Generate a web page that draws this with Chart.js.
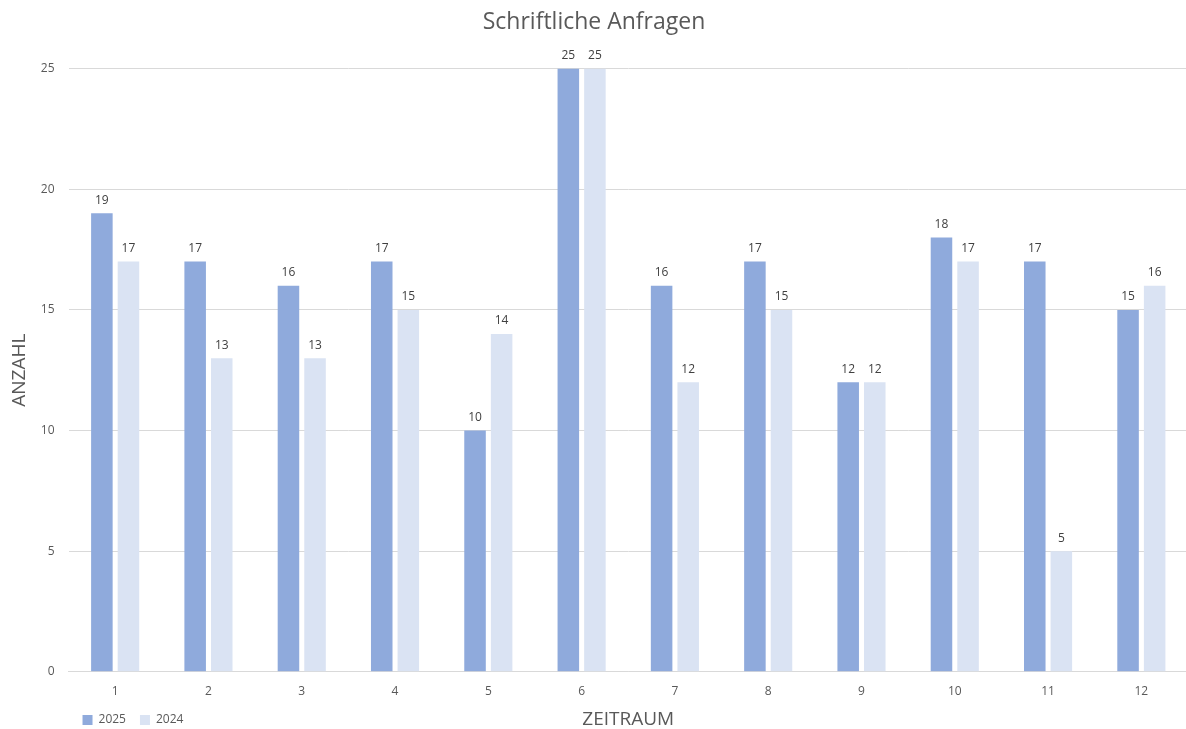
<!DOCTYPE html>
<html>
<head>
<meta charset="utf-8">
<script src="https://cdn.jsdelivr.net/npm/chart.js@4.4.1/dist/chart.umd.min.js"></script>
<style>
  html, body { margin: 0; padding: 0; background: #fff; overflow: hidden; }
  #wrap { position: absolute; left: 0; top: 0; width: 1196px; height: 736px; }
</style>
</head>
<body>
<div id="wrap"><canvas id="myChart"></canvas></div>
<script>
var labels = ['1','2','3','4','5','6','7','8','9','10','11','12'];
var values2025 = [19, 17, 16, 17, 10, 25, 16, 17, 12, 18, 17, 15];
var values2024 = [17, 13, 13, 15, 14, 25, 12, 15, 12, 17, 5, 16];
var yTicks = [0, 5, 10, 15, 20, 25];

var font = 'Open Sans';
var grey = '#595959';

// draws the value above each bar
var valueLabels = {
    id: 'valueLabels',
    afterDatasetsDraw: function (chart) {
        var ctx = chart.ctx;
        ctx.save();
        ctx.font = '12px "' + font + '"';
        ctx.fillStyle = '#404040';
        ctx.textAlign = 'center';
        ctx.textBaseline = 'bottom';
        chart.data.datasets.forEach(function (ds, i) {
            var meta = chart.getDatasetMeta(i);
            meta.data.forEach(function (bar, j) {
                ctx.fillText(ds.data[j], bar.x, bar.y - 7);
            });
        });
        ctx.restore();
    }
};

var ctx = document.getElementById('myChart').getContext('2d');
var myChart = new Chart(ctx, {
    type: 'bar',
    data: {
        labels: labels,
        datasets: [{
            label: '2025',
            data: values2025,
            backgroundColor: '#8faadc',
            categoryPercentage: 0.57,
            barPercentage: 0.81
        }, {
            label: '2024',
            data: values2024,
            backgroundColor: '#dae3f3',
            categoryPercentage: 0.57,
            barPercentage: 0.81
        }]
    },
    options: {
        responsive: true,
        maintainAspectRatio: false,
        animation: false,
        layout: { padding: { left: 0, right: 8, top: 0, bottom: 0 } },
        plugins: {
            title: {
                display: true,
                text: 'Schriftliche Anfragen',
                color: grey,
                font: { family: font, size: 23, weight: 'normal' },
                padding: { top: 9, bottom: 32 }
            },
            legend: {
                position: 'bottom',
                align: 'start',
                fullSize: false,
                labels: {
                    color: grey,
                    font: { family: font, size: 12 },
                    boxWidth: 10,
                    boxHeight: 10,
                    padding: 14
                }
            },
            tooltip: { enabled: false }
        },
        scales: {
            x: {
                grid: { display: false, drawTicks: false },
                border: { color: '#d9d9d9' },
                ticks: { color: grey, font: { family: font, size: 12 }, padding: 13 },
                title: {
                    display: true,
                    text: 'ZEITRAUM',
                    color: grey,
                    font: { family: font, size: 19 },
                    padding: { top: -4, bottom: -31 }
                }
            },
            y: {
                min: 0,
                max: 25,
                afterBuildTicks: function (axis) {
                    axis.ticks = yTicks.map(function (v) { return { value: v }; });
                },
                grid: { color: '#d9d9d9', drawTicks: false },
                border: { display: false },
                ticks: { color: grey, font: { family: font, size: 12 }, padding: 14 },
                title: {
                    display: true,
                    text: 'ANZAHL',
                    color: grey,
                    font: { family: font, size: 19 },
                    padding: { top: 8, bottom: -4 }
                }
            }
        }
    },
    plugins: [valueLabels]
});
</script>
</body>
</html>
